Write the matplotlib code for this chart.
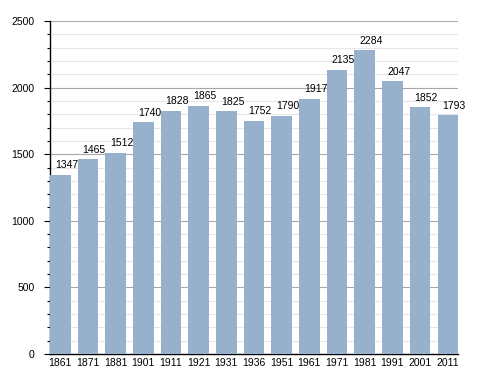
import matplotlib
matplotlib.use("Agg")
import matplotlib.pyplot as plt
from matplotlib.ticker import MultipleLocator

years = ["1861", "1871", "1881", "1901", "1911", "1921", "1931", "1936",
         "1951", "1961", "1971", "1981", "1991", "2001", "2011"]
population = [1347, 1465, 1512, 1740, 1828, 1865, 1825, 1752,
              1790, 1917, 2135, 2284, 2047, 1852, 1793]

plt.rcParams["font.family"] = ["Liberation Sans", "DejaVu Sans"]

fig = plt.figure(figsize=(4.88, 3.73), dpi=100)
ax = fig.add_axes([0.1025, 0.0509, 0.836, 0.8928])

width = 0.74
x = list(range(len(years)))
ax.bar(x, population, width=width, color="#97b0cc", zorder=3)

# value labels sit a bit right of the bar centre, like the original
for xi, v in zip(x, population):
    ax.annotate(str(v), (xi, v), xytext=(4.5, 3), textcoords="offset points",
                ha="center", va="bottom", fontsize=7.5, zorder=4)

ax.set_xlim(-width / 2, len(years) - 1 + width / 2)
ax.set_ylim(0, 2500)
ax.set_xticks(x)
ax.set_xticklabels(years, fontsize=7.5)
ax.yaxis.set_major_locator(MultipleLocator(500))
ax.yaxis.set_minor_locator(MultipleLocator(100))
ax.tick_params(axis="y", which="major", labelsize=7.5, length=4, width=0.8, pad=7)
ax.tick_params(axis="y", which="minor", length=2, width=0.8)
ax.tick_params(axis="x", length=0, pad=3)

ax.grid(axis="y", which="major", color="#a8a8a8", linewidth=0.8, zorder=0)
ax.grid(axis="y", which="minor", color="#e6e6e6", linewidth=0.8, zorder=0)

for s in ["top", "right"]:
    ax.spines[s].set_visible(False)
ax.spines["left"].set_linewidth(1)
ax.spines["bottom"].set_linewidth(1)

fig.savefig("out.png", dpi=100)
